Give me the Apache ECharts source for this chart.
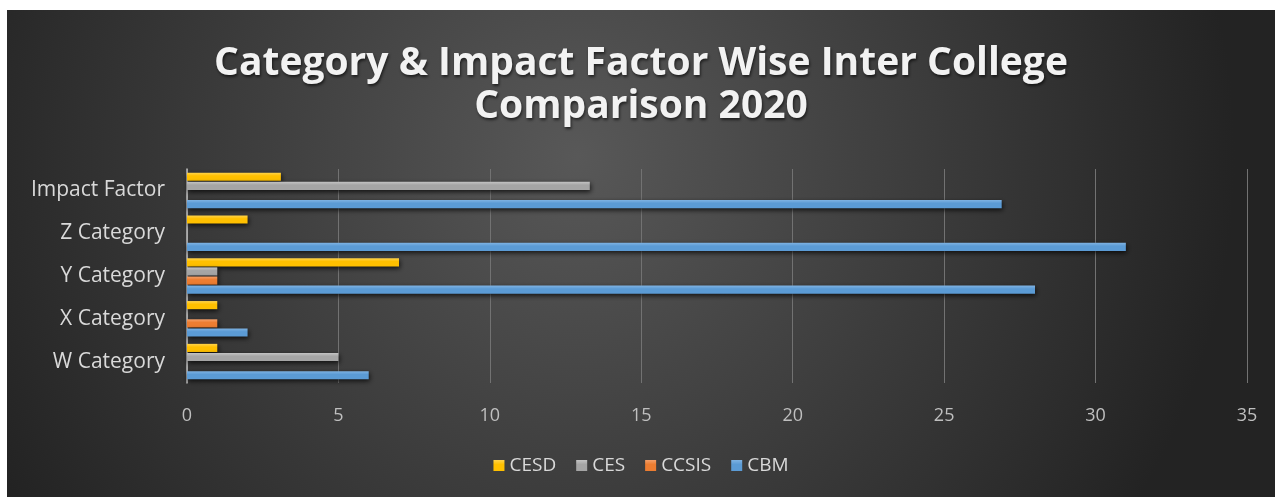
<!DOCTYPE html>
<html>
<head>
<meta charset="utf-8">
<script src="https://cdn.jsdelivr.net/npm/echarts@6/dist/echarts.min.js"></script>
<style>
  html, body { margin: 0; padding: 0; background: #ffffff; width: 1275px; height: 497px; overflow: hidden; }
  #doc { position: absolute; left: 0; top: -31px; width: 1275px; height: 41px; overflow: hidden;
         font-family: "Liberation Serif", serif; font-size: 27px; line-height: 30px; color: #000; white-space: nowrap; padding-left: 60px; }
  #main { position: absolute; left: 7px; top: 10px; width: 1268px; height: 487px; }
</style>
</head>
<body>
<div id="doc">Category wise and Impact Factor (Impact Factor) wise category papers comparison</div>
<div id="main"></div>
<script>
const categories = ['W Category', 'X Category', 'Y Category', 'Z Category', 'Impact Factor'];
const cesd = [1, 1, 7, 2, 3.1];
const ces = [5, 0, 1, 0, 13.3];
const ccsis = [0, 1, 1, 0, 0];
const cbm = [6, 2, 28, 31, 26.9];
const legendOrder = ['CESD', 'CES', 'CCSIS', 'CBM'];

const chart = echarts.init(document.getElementById('main'));

function barStyle(base, light) {
    return {
        color: new echarts.graphic.LinearGradient(0, 0, 0, 1, [
            { offset: 0, color: light },
            { offset: 0.4, color: base },
            { offset: 1, color: base }
        ]),
        shadowColor: 'rgba(0,0,0,0.75)',
        shadowBlur: 5,
        shadowOffsetX: 1,
        shadowOffsetY: 2
    };
}

function makeSeries(name, data, base, light) {
    return {
        name: name,
        type: 'bar',
        data: data,
        barGap: '12%',
        barCategoryGap: '17%',
        itemStyle: barStyle(base, light),
        silent: true
    };
}

const option = {
    animation: false,
    backgroundColor: {
        type: 'radial', x: 0.45, y: 0.3, r: 1.35,
        colorStops: [
            { offset: 0, color: '#585858' },
            { offset: 1, color: '#232323' }
        ]
    },
    title: {
        text: 'Category & Impact Factor Wise Inter College\nComparison 2020',
        left: 'center',
        top: 27,
        textStyle: {
            color: '#f2f2f2',
            fontFamily: 'Open Sans',
            fontWeight: 'bold',
            fontSize: 39,
            lineHeight: 43,
            textShadowColor: 'rgba(0,0,0,0.6)',
            textShadowBlur: 3,
            textShadowOffsetX: 1,
            textShadowOffsetY: 2
        }
    },
    legend: {
        data: legendOrder,
        bottom: 17,
        left: 'center',
        icon: 'rect',
        itemWidth: 11,
        itemHeight: 11,
        itemGap: 20,
        textStyle: { color: '#d9d9d9', fontFamily: 'Open Sans', fontSize: 19 }
    },
    grid: { left: 180, right: 28, top: 159, height: 214, containLabel: false },
    xAxis: {
        type: 'value',
        min: 0,
        max: 35,
        interval: 5,
        axisLine: { show: false },
        axisTick: { show: false },
        axisLabel: { color: '#bfbfbf', fontFamily: 'Open Sans', fontSize: 18, margin: 24 },
        splitLine: { show: true, lineStyle: { color: '#727272', width: 1 } }
    },
    yAxis: {
        type: 'category',
        data: categories,
        axisLine: { show: true, lineStyle: { color: '#bfbfbf', width: 1.5 } },
        axisTick: { show: false },
        axisLabel: { color: '#d9d9d9', fontFamily: 'Open Sans', fontSize: 21, margin: 22 }
    },
    series: [
        makeSeries('CESD', cesd, '#ffc000', '#ffd44d'),
        makeSeries('CES', ces, '#a5a5a5', '#c4c4c4'),
        makeSeries('CCSIS', ccsis, '#ed7d31', '#f4a06a'),
        makeSeries('CBM', cbm, '#5b9bd5', '#7fb3e3')
    ]
};

chart.setOption(option);
</script>
</body>
</html>
